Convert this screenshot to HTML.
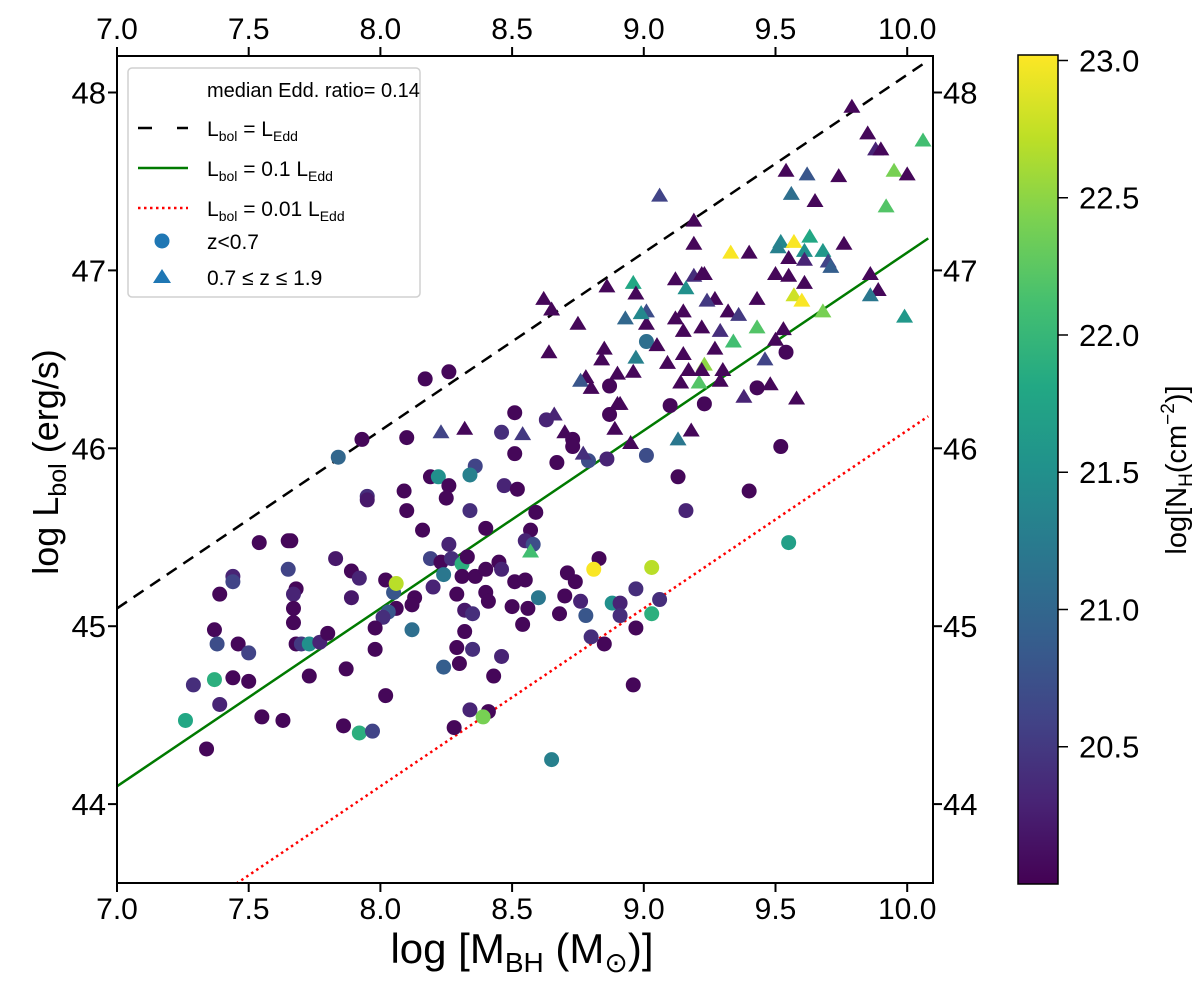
<!DOCTYPE html>
<html><head><meta charset="utf-8"><style>
html,body{margin:0;padding:0;background:#fff;}
svg{display:block;font-family:"Liberation Sans","DejaVu Sans",sans-serif;}
</style></head><body>
<svg id="chart" width="1200" height="985" viewBox="0 0 1200 985">
<defs>
<linearGradient id="viridis" x1="0" y1="1" x2="0" y2="0">
<stop offset="0" stop-color="#440154"/><stop offset="0.1" stop-color="#482475"/><stop offset="0.2" stop-color="#414487"/><stop offset="0.3" stop-color="#355f8d"/><stop offset="0.4" stop-color="#2a788e"/><stop offset="0.5" stop-color="#21918c"/><stop offset="0.6" stop-color="#22a884"/><stop offset="0.7" stop-color="#44bf70"/><stop offset="0.8" stop-color="#7ad151"/><stop offset="0.9" stop-color="#bddf26"/><stop offset="1" stop-color="#fde725"/>
</linearGradient>
<clipPath id="plotclip"><rect x="117" y="56" width="816" height="827"/></clipPath>
</defs>
<g id="lines" clip-path="url(#plotclip)"></g>
<g id="marks" clip-path="url(#plotclip)"></g>
<rect x="117" y="56" width="816" height="827" fill="none" stroke="#000" stroke-width="2"/>
<g id="axes"></g>
<g>
<rect x="128" y="68" width="292" height="229" rx="4" fill="#fff" fill-opacity="0.8" stroke="#d0d0d0" stroke-width="1.5"/>
<text x="207" y="97" font-size="20">median Edd. ratio= 0.14</text>
<line x1="138" y1="128" x2="188" y2="128" stroke="#000" stroke-width="2.5" stroke-dasharray="14,25"/>
<text x="207" y="136" font-size="21">L<tspan font-size="14" dy="5">bol</tspan><tspan dy="-5"> = L</tspan><tspan font-size="14" dy="5">Edd</tspan></text>
<line x1="138" y1="168" x2="188" y2="168" stroke="#007a00" stroke-width="2.5"/>
<text x="207" y="176" font-size="21">L<tspan font-size="14" dy="5">bol</tspan><tspan dy="-5"> = 0.1 L</tspan><tspan font-size="14" dy="5">Edd</tspan></text>
<line x1="138" y1="208" x2="188" y2="208" stroke="#ff0000" stroke-width="2.5" stroke-dasharray="2.5,3.5"/>
<text x="207" y="216" font-size="21">L<tspan font-size="14" dy="5">bol</tspan><tspan dy="-5"> = 0.01 L</tspan><tspan font-size="14" dy="5">Edd</tspan></text>
<circle cx="162" cy="241" r="7.5" fill="#1f77b4"/>
<text x="207" y="249" font-size="21">z&lt;0.7</text>
<polygon points="162,269 171,283 153,283" fill="#1f77b4"/>
<text x="207" y="285" font-size="21">0.7 ≤ z ≤ 1.9</text>
</g>
<text x="522" y="963" font-size="42" text-anchor="middle">log [M<tspan font-size="28" dy="9">BH</tspan><tspan dy="-9"> (M</tspan><tspan font-size="28" dy="9">⊙</tspan><tspan dy="-9">)]</tspan></text>
<text transform="translate(58,462) rotate(-90)" font-size="36" text-anchor="middle">log L<tspan font-size="25" dy="8">bol</tspan><tspan dy="-8"> (erg/s)</tspan></text>
<g>
<rect x="1018" y="55" width="40" height="829" fill="url(#viridis)" stroke="#000" stroke-width="1.5"/>
<g id="cbticks"></g>
<text transform="translate(1186,470) rotate(-90)" font-size="29" text-anchor="middle">log[N<tspan font-size="19" dy="6">H</tspan><tspan dy="-6">(cm</tspan><tspan font-size="19" dy="-12">−2</tspan><tspan dy="12">)]</tspan></text>
</g>
</svg>
<script>
const xTicks = [7.0, 7.5, 8.0, 8.5, 9.0, 9.5, 10.0];
const yTicks = [44, 45, 46, 47, 48];
const cbTicks = [20.5, 21.0, 21.5, 22.0, 22.5, 23.0];
const eddOffsets = [38.1, 37.1, 36.1];
const circM = [8.17,8.26,7.93,7.84,8.10,8.46,8.51,8.51,8.19,8.22,8.26,8.25,8.36,8.34,8.47,8.52,7.95,7.95,8.09,8.10,8.16,8.34,8.40,8.59,8.57,8.55,8.58,7.54,7.65,7.66,7.83,7.65,7.89,7.92,8.02,8.05,8.19,8.23,8.26,8.27,8.31,8.33,8.24,8.31,8.36,8.40,8.45,8.46,8.51,8.55,8.60,8.20,8.13,8.12,8.29,8.40,8.41,8.32,8.35,8.50,8.56,8.54,7.44,7.44,7.39,7.68,7.67,7.89,8.06,8.03,8.01,7.67,7.67,7.98,8.12,8.32,7.37,7.38,7.46,7.50,7.68,7.70,7.73,7.77,7.80,7.98,8.29,8.35,8.46,8.24,8.30,8.43,7.29,7.37,7.44,7.50,7.73,7.87,7.39,7.26,7.55,7.63,8.02,7.86,7.92,7.97,8.34,8.41,8.39,8.28,7.34,8.63,8.73,8.73,8.67,8.79,8.86,8.87,8.87,9.01,9.01,9.10,9.23,9.54,9.43,9.52,9.13,9.40,9.16,9.55,8.83,8.81,9.03,8.71,8.74,8.70,8.76,8.78,8.68,8.88,8.91,8.91,8.97,8.97,9.03,9.06,8.80,8.85,8.96,8.65,8.06];
const circL = [46.39,46.43,46.05,45.95,46.06,46.09,46.20,45.97,45.84,45.84,45.79,45.72,45.90,45.85,45.79,45.77,45.73,45.71,45.76,45.65,45.54,45.65,45.55,45.64,45.54,45.48,45.46,45.47,45.48,45.48,45.38,45.32,45.31,45.27,45.26,45.19,45.38,45.36,45.46,45.38,45.35,45.39,45.29,45.28,45.28,45.32,45.36,45.32,45.25,45.26,45.16,45.22,45.16,45.12,45.18,45.19,45.14,45.09,45.07,45.11,45.10,45.01,45.28,45.25,45.18,45.21,45.18,45.16,45.10,45.08,45.05,45.10,45.02,44.99,44.98,44.97,44.98,44.90,44.90,44.85,44.90,44.90,44.90,44.91,44.96,44.87,44.88,44.87,44.83,44.77,44.79,44.72,44.67,44.70,44.71,44.69,44.72,44.76,44.56,44.47,44.49,44.47,44.61,44.44,44.40,44.41,44.53,44.52,44.49,44.43,44.31,46.16,46.05,46.01,45.92,45.93,45.94,46.35,46.19,46.60,45.96,46.24,46.25,46.54,46.34,46.01,45.84,45.76,45.65,45.47,45.38,45.32,45.33,45.30,45.25,45.17,45.14,45.06,45.07,45.13,45.13,45.06,45.21,44.99,45.07,45.15,44.94,44.90,44.67,44.25,45.24];
const circN = [20.05,20.05,20.05,21.0,20.05,20.4,20.05,20.05,20.05,21.5,20.05,20.05,20.6,21.3,20.3,20.05,20.4,20.2,20.05,20.05,20.05,20.4,20.05,20.05,20.05,20.3,20.7,20.05,20.05,20.05,20.2,20.6,20.05,20.3,20.05,20.8,20.6,20.05,20.3,20.4,21.9,20.05,21.2,20.05,20.05,20.05,20.05,20.3,20.05,20.05,21.2,20.3,20.05,20.05,20.05,20.05,20.05,20.2,20.4,20.05,20.05,20.05,20.3,20.6,20.05,20.05,20.3,20.2,20.05,20.8,20.4,20.05,20.05,20.05,21.1,20.05,20.05,20.7,20.05,20.6,20.05,20.5,21.5,20.3,20.05,20.05,20.05,20.4,20.3,20.9,20.05,20.05,20.4,21.9,20.05,20.05,20.05,20.05,20.3,21.8,20.05,20.05,20.05,20.05,21.9,20.6,20.3,20.05,22.4,20.05,20.05,20.3,20.05,20.05,20.05,20.7,20.3,20.05,20.05,21.1,20.7,20.05,20.05,20.05,20.05,20.05,20.05,20.05,20.3,21.7,20.05,23.0,22.7,20.05,20.05,20.05,20.3,20.8,20.05,21.5,20.3,20.4,20.4,20.05,21.9,20.4,20.4,20.05,20.05,21.3,22.7];
const triM = [9.79,9.85,9.88,9.90,10.06,9.95,10.00,9.92,9.54,9.62,9.74,9.56,9.65,9.06,9.19,9.19,9.33,9.40,9.52,9.51,9.57,9.63,9.61,9.68,9.55,9.61,9.70,9.71,9.76,9.50,9.55,9.61,9.86,9.89,9.86,9.99,9.57,9.60,9.68,9.43,9.27,9.24,9.53,9.50,9.46,9.48,9.38,9.58,9.43,9.34,9.29,9.22,9.15,9.12,9.15,9.32,9.36,9.15,9.27,9.30,9.23,9.21,9.17,9.22,9.14,9.29,9.09,9.05,8.97,8.96,9.01,9.01,8.99,8.93,8.96,8.97,9.12,9.19,9.22,9.23,9.16,8.86,8.75,8.64,8.62,8.65,8.85,8.84,8.90,8.78,8.76,8.80,8.90,8.91,8.66,8.70,8.77,8.89,8.95,9.13,9.18,8.57,8.23,8.32,8.54];
const triL = [47.92,47.77,47.68,47.68,47.73,47.56,47.54,47.36,47.56,47.54,47.53,47.43,47.39,47.42,47.28,47.15,47.10,47.10,47.16,47.13,47.16,47.19,47.11,47.11,47.07,47.06,47.05,47.02,47.15,46.98,46.97,46.93,46.98,46.89,46.86,46.74,46.86,46.83,46.77,46.84,46.84,46.83,46.67,46.61,46.50,46.36,46.29,46.28,46.68,46.60,46.66,46.68,46.66,46.73,46.77,46.77,46.75,46.53,46.56,46.44,46.47,46.37,46.44,46.44,46.37,46.38,46.48,46.58,46.51,46.43,46.70,46.77,46.76,46.73,46.93,46.87,46.95,46.97,46.98,46.98,46.90,46.91,46.70,46.54,46.84,46.78,46.56,46.50,46.42,46.40,46.38,46.34,46.25,46.25,46.19,46.09,45.97,46.11,46.03,46.05,46.10,45.42,46.09,46.11,46.08];
const triN = [20.05,20.05,20.3,20.05,22.1,22.4,20.05,22.2,20.05,20.8,20.05,21.1,20.05,20.6,20.05,20.05,23.0,20.05,21.4,21.3,23.0,21.8,21.5,21.6,20.05,20.3,20.6,20.9,20.05,20.05,20.05,20.05,20.05,20.05,21.2,21.6,22.8,23.0,22.4,20.05,20.05,20.5,20.05,20.05,20.6,20.05,20.3,20.05,22.2,22.1,20.4,20.05,20.05,20.05,20.05,20.05,20.5,20.05,20.05,20.05,22.5,22.2,20.05,20.05,20.05,20.05,20.05,20.05,21.3,20.05,20.05,20.7,21.4,21.0,21.8,20.05,20.05,20.4,20.05,20.05,21.5,20.05,20.05,20.05,20.05,20.05,20.05,20.05,20.05,20.05,20.8,20.05,20.05,20.05,20.3,20.05,20.4,20.05,20.05,21.2,20.05,22.1,20.6,20.05,20.5];

const NS = 'http://www.w3.org/2000/svg';
const X0 = 117, X1 = 933, Y0 = 56, Y1 = 883;
function xs(m){ return 117 + (m - 7) * 263.4; }
function ys(l){ return 92.5 + (48 - l) * 177.9; }
const N_MIN = 20.0, N_MAX = 23.02;
function cbY(n){ return 884 - (n - N_MIN) / (N_MAX - N_MIN) * 829; }
const vir = ['#440154','#482475','#414487','#355f8d','#2a788e','#21918c','#22a884','#44bf70','#7ad151','#bddf26','#fde725'];
function hex(c){ return [1,3,5].map(i=>parseInt(c.substr(i,2),16)); }
function cmap(n){
  let t = Math.max(0, Math.min(1, (n - N_MIN) / (N_MAX - N_MIN))) * 10;
  let i = Math.min(9, Math.floor(t)), f = t - i;
  const a = hex(vir[i]), b = hex(vir[i+1]);
  return 'rgb(' + a.map((v,k)=>Math.round(v + (b[k]-v)*f)).join(',') + ')';
}
function mk(tag, attrs, parent){
  const e = document.createElementNS(NS, tag);
  for (const k in attrs) e.setAttribute(k, attrs[k]);
  parent.appendChild(e); return e;
}
const lines = document.getElementById('lines');
const styles = [{c:'#000', d:'12,8', n:'line-eddington'}, {c:'#007a00', d:'', n:'line-tenth-eddington'}, {c:'#ff0000', d:'2.5,3.5', n:'line-hundredth-eddington'}];
eddOffsets.forEach((off, i) => {
  const ln = mk('line', {x1: xs(7), y1: ys(7 + off), x2: xs(10.08), y2: ys(10.08 + off), stroke: styles[i].c, 'stroke-width': 2.5, 'stroke-dasharray': styles[i].d}, lines);
  
  
});
const marks = document.getElementById('marks');
circM.forEach((m, i) => {
  const c = mk('circle', {cx: xs(m), cy: ys(circL[i]), r: 7.5, fill: cmap(circN[i])}, marks);
  
  
});
triM.forEach((m, i) => {
  const x = xs(m), y = ys(triL[i]);
  const p = mk('polygon', {points: x + ',' + (y - 8) + ' ' + (x + 8.5) + ',' + (y + 6) + ' ' + (x - 8.5) + ',' + (y + 6), fill: cmap(triN[i])}, marks);
  
  
});
const axes = document.getElementById('axes');
xTicks.forEach(v => {
  const x = xs(v);
  const t1 = mk('line', {x1: x, y1: Y1, x2: x, y2: Y1 + 9, stroke: '#000', 'stroke-width': 2}, axes);
   
  const t2 = mk('line', {x1: x, y1: Y0, x2: x, y2: Y0 - 9, stroke: '#000', 'stroke-width': 2}, axes);
   
  const l1 = mk('text', {x: x, y: Y1 + 36, 'font-size': 30, 'text-anchor': 'middle'}, axes);
  l1.textContent = v.toFixed(1);
   
  const l2 = mk('text', {x: x, y: Y0 - 17, 'font-size': 30, 'text-anchor': 'middle'}, axes);
  l2.textContent = v.toFixed(1);
   
});
yTicks.forEach(v => {
  const y = ys(v);
  const t1 = mk('line', {x1: X0, y1: y, x2: X0 - 9, y2: y, stroke: '#000', 'stroke-width': 2}, axes);
   
  const t2 = mk('line', {x1: X1, y1: y, x2: X1 + 9, y2: y, stroke: '#000', 'stroke-width': 2}, axes);
   
  const l1 = mk('text', {x: X0 - 11, y: y + 11, 'font-size': 31, 'text-anchor': 'end'}, axes);
  l1.textContent = v;
   
  const l2 = mk('text', {x: X1 + 10, y: y + 11, 'font-size': 31, 'text-anchor': 'start'}, axes);
  l2.textContent = v;
   
});
const cbt = document.getElementById('cbticks');
cbTicks.forEach(v => {
  const y = cbY(v);
  const t = mk('line', {x1: 1058, y1: y, x2: 1068, y2: y, stroke: '#000', 'stroke-width': 1.5}, cbt);
   
  const l = mk('text', {x: 1079, y: y + 11, 'font-size': 31}, cbt);
  l.textContent = v.toFixed(1);
   
});
</script>
</body></html>
